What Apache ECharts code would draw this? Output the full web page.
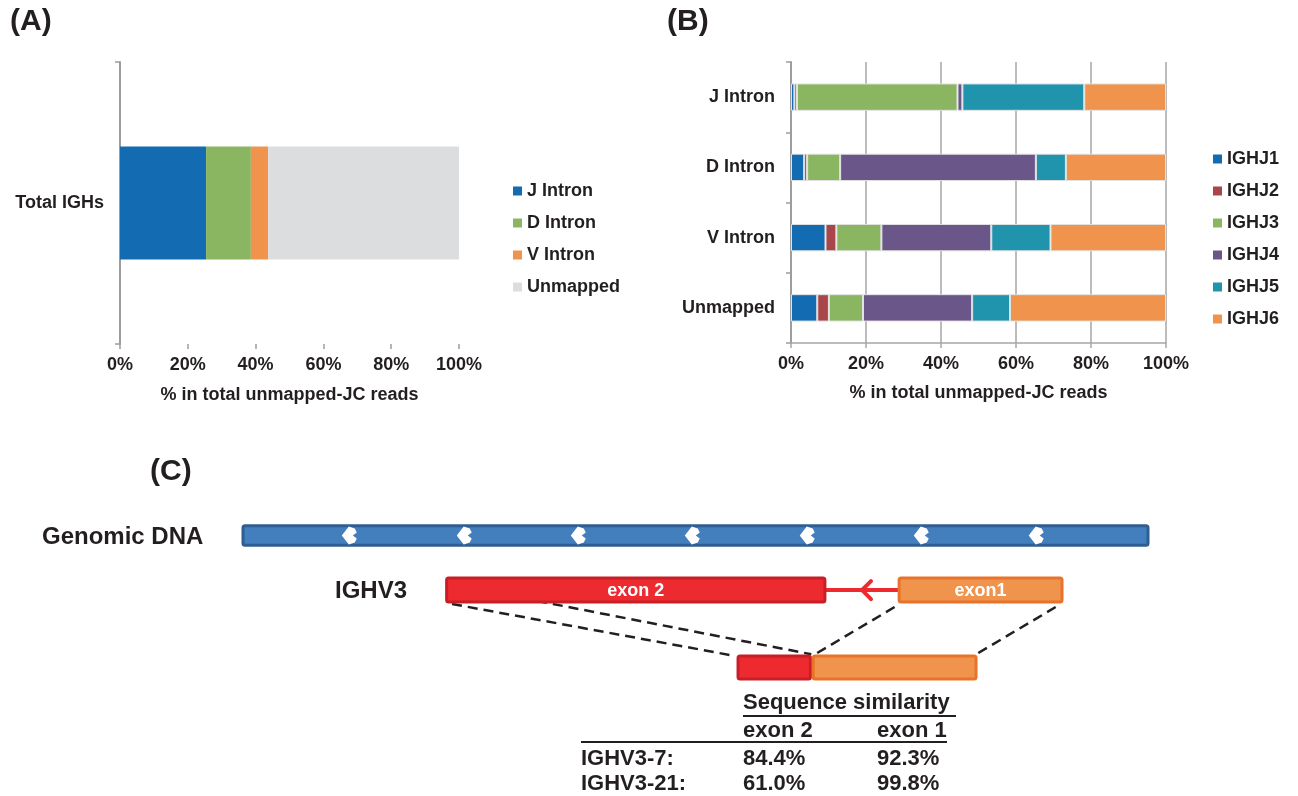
<!DOCTYPE html>
<html><head><meta charset="utf-8">
<script src="https://cdn.jsdelivr.net/npm/echarts@6/dist/echarts.min.js"></script>
<style>html,body{margin:0;padding:0;background:#fff}#c{width:1298px;height:796px}</style>
</head><body><div id="c"></div>
<script>
// ---------- DATA ----------
// Panel A
const aCategories = ['Total IGHs'];
const aSeriesNames = ['J Intron', 'D Intron', 'V Intron', 'Unmapped'];
const aJIntron = [25.4];
const aDIntron = [13.2];
const aVIntron = [5.1];
const aUnmapped = [56.3];
// Panel B
const bCategories = ['J Intron', 'D Intron', 'V Intron', 'Unmapped'];
const bSeriesNames = ['IGHJ1', 'IGHJ2', 'IGHJ3', 'IGHJ4', 'IGHJ5', 'IGHJ6'];
const ighj1 = [0.9, 3.5, 9.2, 7.0];
const ighj2 = [0.7, 0.8, 2.9, 3.1];
const ighj3 = [42.8, 8.8, 12.0, 9.1];
const ighj4 = [1.3, 52.2, 29.3, 29.1];
const ighj5 = [32.5, 8.0, 15.8, 10.1];
const ighj6 = [21.8, 26.7, 30.8, 41.6];
const percentTickMin = 0, percentTickMax = 100, percentTickStep = 20;
const axisName = '% in total unmapped-JC reads';
// Panel C (schematic units along genomic DNA, 0..100)
const dnaSpan = [0, 100];
const cutSites = [11.8, 24.5, 37.1, 49.7, 62.4, 75.0, 87.7];
const geneExonNames = ['exon 2', 'exon1'];
const geneExonStart = [22.5, 72.5];
const geneExonEnd = [64.3, 90.5];
const intronSpan = [64.3, 72.5];
const readExonStart = [54.7, 63.0];
const readExonEnd = [62.7, 81.0];
// connectors: [geneX, readX]
const connectorGeneX = [23.1, 32.5, 72.0, 89.8];
const connectorReadX = [54.4, 62.8, 63.2, 81.0];
// similarity table
const tableTitle = 'Sequence similarity';
const tableCols = ['exon 2', 'exon 1'];
const tableRows = ['IGHV3-7:', 'IGHV3-21:'];
const simExon2 = ['84.4%', '61.0%'];
const simExon1 = ['92.3%', '99.8%'];

// ---------- STYLE ----------
const FF = '"Liberation Sans", Arial, Helvetica, sans-serif';
const TXT = '#231f20';
const aColors = ['#136cb2', '#8ab661', '#f0934c', '#dcdddf'];
const bColors = ['#136cb2', '#a8464a', '#8ab661', '#6b5689', '#2194ad', '#f0934c'];
const rowY = { dna: 9.1, gene: 41.2, read: 86.8 };
const rowH = { dna: 11.5, gene: 14.1, read: 13.5 };
const connY = { gene: [49.4, 47.6, 51.2, 51.2], read: [80.0, 79.0, 79.0, 79.0] };

const chart = echarts.init(document.getElementById('c'), null, { renderer: 'canvas' });

const lab = { fontFamily: FF, fontWeight: 'bold', fontSize: 18, color: TXT };

const aData = [aJIntron, aDIntron, aVIntron, aUnmapped];
const bData = [ighj1, ighj2, ighj3, ighj4, ighj5, ighj6];

const series = [];
aSeriesNames.forEach((n, i) => series.push({
  name: n, type: 'bar', stack: 'a', xAxisIndex: 0, yAxisIndex: 0,
  barWidth: '40%', data: aData[i], itemStyle: { color: aColors[i] }, silent: true
}));
bSeriesNames.forEach((n, i) => series.push({
  name: n, type: 'bar', stack: 'b', xAxisIndex: 1, yAxisIndex: 1,
  barWidth: '39%', data: bData[i],
  itemStyle: { color: bColors[i], borderColor: '#e2e2e2', borderWidth: 1 }, silent: true
}));

// Panel C: genomic DNA bar
series.push({
  type: 'custom', xAxisIndex: 2, yAxisIndex: 2, silent: true,
  data: [[dnaSpan[0], dnaSpan[1], rowY.dna, rowH.dna]],
  renderItem(p, api) {
    const s = api.coord([api.value(0), api.value(2)]);
    const e = api.coord([api.value(1), api.value(2)]);
    const h = api.size([0, api.value(3)])[1];
    return { type: 'rect', shape: { x: s[0], y: s[1] - h / 2, width: e[0] - s[0], height: h, r: 2 },
      style: { fill: '#437ebd', stroke: '#2f5f92', lineWidth: 3 } };
  }
});
// cut sites
series.push({
  type: 'custom', xAxisIndex: 2, yAxisIndex: 2, silent: true, z: 5,
  data: cutSites.map(v => [v, rowY.dna]),
  renderItem(p, api) {
    const c = api.coord([api.value(0), api.value(1)]);
    const x = c[0], y = c[1];
    return { type: 'polygon', shape: { points: [[x - 8, y], [x - 1, y - 9], [x + 5, y - 7], [x + 7, y - 3], [x + 3, y], [x + 7, y + 3], [x + 5, y + 7], [x - 1, y + 9]] },
      style: { fill: '#ffffff' } };
  }
});
// intron line with arrow
series.push({
  type: 'custom', xAxisIndex: 2, yAxisIndex: 2, silent: true,
  data: [[intronSpan[0], intronSpan[1], rowY.gene]],
  renderItem(p, api) {
    const s = api.coord([api.value(0), api.value(2)]);
    const e = api.coord([api.value(1), api.value(2)]);
    const m = (s[0] + e[0]) / 2;
    return { type: 'group', children: [
      { type: 'line', shape: { x1: s[0], y1: s[1], x2: e[0], y2: e[1] }, style: { stroke: '#ee2a2f', lineWidth: 4 } },
      { type: 'polyline', shape: { points: [[m + 9, s[1] - 9], [m, s[1]], [m + 9, s[1] + 9]] }, style: { stroke: '#ee2a2f', lineWidth: 4, fill: null, lineCap: 'round' } }
    ] };
  }
});
// gene exons
const exonFill = ['#ed2a2f', '#f0934c'];
const exonStroke = ['#c81f27', '#e8732a'];
series.push({
  type: 'custom', xAxisIndex: 2, yAxisIndex: 2, silent: true, z: 4,
  data: geneExonNames.map((n, i) => [geneExonStart[i], geneExonEnd[i], rowY.gene, rowH.gene, i, n]),
  renderItem(p, api) {
    const s = api.coord([api.value(0), api.value(2)]);
    const e = api.coord([api.value(1), api.value(2)]);
    const h = api.size([0, api.value(3)])[1];
    const i = api.value(4);
    return { type: 'group', children: [
      { type: 'rect', shape: { x: s[0], y: s[1] - h / 2, width: e[0] - s[0], height: h, r: 2 },
        style: { fill: exonFill[i], stroke: exonStroke[i], lineWidth: 3 } },
      { type: 'text', x: (s[0] + e[0]) / 2, y: s[1] + 1, style: { text: geneExonNames[i], fill: '#fff', font: 'bold 18px ' + FF, align: 'center', verticalAlign: 'middle' } }
    ] };
  }
});
// read exons
series.push({
  type: 'custom', xAxisIndex: 2, yAxisIndex: 2, silent: true, z: 4,
  data: readExonStart.map((v, i) => [v, readExonEnd[i], rowY.read, rowH.read, i]),
  renderItem(p, api) {
    const s = api.coord([api.value(0), api.value(2)]);
    const e = api.coord([api.value(1), api.value(2)]);
    const h = api.size([0, api.value(3)])[1];
    const i = api.value(4);
    return { type: 'rect', shape: { x: s[0], y: s[1] - h / 2, width: e[0] - s[0], height: h, r: 2 },
      style: { fill: exonFill[i], stroke: exonStroke[i], lineWidth: 3 } };
  }
});
// dashed connectors
series.push({
  type: 'custom', xAxisIndex: 2, yAxisIndex: 2, silent: true, z: 3,
  data: connectorGeneX.map((v, i) => [v, connY.gene[i], connectorReadX[i], connY.read[i]]),
  renderItem(p, api) {
    const a = api.coord([api.value(0), api.value(1)]);
    const b = api.coord([api.value(2), api.value(3)]);
    return { type: 'line', shape: { x1: a[0], y1: a[1], x2: b[0], y2: b[1] },
      style: { stroke: TXT, lineWidth: 2.5, lineDash: [10, 6] } };
  }
});

// graphic texts
const gtxt = (text, x, y, size, extra) => Object.assign({
  type: 'text', x, y, style: { text, font: 'bold ' + size + 'px ' + FF, fill: TXT, verticalAlign: 'middle' }
}, extra || {});
const graphic = [
  gtxt('(A)', 10, 22, 30),
  gtxt('(B)', 667, 22, 30),
  gtxt('(C)', 150, 472, 30),
  gtxt('Genomic DNA', 42, 537, 24),
  gtxt('IGHV3', 335, 591, 24),
  gtxt(tableTitle, 743, 703, 22),
  { type: 'line', shape: { x1: 743, y1: 716, x2: 956, y2: 716 }, style: { stroke: TXT, lineWidth: 2 } },
  gtxt(tableCols[0], 743, 731, 22),
  gtxt(tableCols[1], 877, 731, 22),
  { type: 'line', shape: { x1: 581, y1: 742, x2: 947, y2: 742 }, style: { stroke: TXT, lineWidth: 2 } }
];
tableRows.forEach((r, i) => {
  const y = 759 + i * 25;
  graphic.push(gtxt(r, 581, y, 22));
  graphic.push(gtxt(simExon2[i], 743, y, 22));
  graphic.push(gtxt(simExon1[i], 877, y, 22));
});

const option = {
  animation: false,
  backgroundColor: '#fff',
  textStyle: { fontFamily: FF },
  grid: [
    { left: 120, top: 62, width: 339, height: 282 },
    { left: 791, top: 62, width: 375, height: 281 },
    { left: 243, top: 520, width: 905, height: 170 }
  ],
  legend: [
    { data: aSeriesNames, orient: 'vertical', left: 508, top: 177, itemWidth: 9, itemHeight: 9, itemGap: 14,
      icon: 'rect', itemStyle: { borderWidth: 0 }, textStyle: Object.assign({}, lab, { lineHeight: 18 }), selectedMode: false },
    { data: bSeriesNames, orient: 'vertical', left: 1208, top: 145, itemWidth: 9, itemHeight: 9, itemGap: 14,
      icon: 'rect', itemStyle: { borderWidth: 0 }, textStyle: Object.assign({}, lab, { lineHeight: 18 }), selectedMode: false }
  ],
  xAxis: [
    { gridIndex: 0, type: 'value', min: percentTickMin, max: percentTickMax, interval: percentTickStep,
      axisLabel: Object.assign({ formatter: '{value}%', margin: 12 }, lab),
      axisLine: { show: false }, axisTick: { show: true, length: 5, lineStyle: { color: '#9d9d9f', width: 1.5 } },
      splitLine: { show: false },
      name: axisName, nameLocation: 'middle', nameGap: 42, nameTextStyle: lab },
    { gridIndex: 1, type: 'value', min: percentTickMin, max: percentTickMax, interval: percentTickStep,
      axisLabel: Object.assign({ formatter: '{value}%', margin: 12 }, lab),
      axisLine: { show: true, lineStyle: { color: '#a6a6a6', width: 1.5 } },
      axisTick: { show: true, length: 5, lineStyle: { color: '#a6a6a6', width: 1.5 } },
      splitLine: { show: true, lineStyle: { color: '#a6a6a6', width: 1.5 } },
      name: axisName, nameLocation: 'middle', nameGap: 41, nameTextStyle: lab },
    { gridIndex: 2, type: 'value', min: dnaSpan[0], max: dnaSpan[1], show: false }
  ],
  yAxis: [
    { gridIndex: 0, type: 'category', data: aCategories,
      axisLine: { lineStyle: { color: '#9d9d9f', width: 2 } },
      axisTick: { show: true, length: 5, lineStyle: { color: '#9d9d9f', width: 1.5 } },
      axisLabel: Object.assign({ margin: 16 }, lab) },
    { gridIndex: 1, type: 'category', data: bCategories, inverse: true,
      axisLine: { lineStyle: { color: '#9d9d9f', width: 2 } },
      axisTick: { show: true, length: 5, lineStyle: { color: '#9d9d9f', width: 1.5 } },
      axisLabel: Object.assign({ margin: 16 }, lab) },
    { gridIndex: 2, type: 'value', min: 0, max: 100, inverse: true, show: false }
  ],
  series,
  graphic
};
chart.setOption(option);
</script>
</body></html>
